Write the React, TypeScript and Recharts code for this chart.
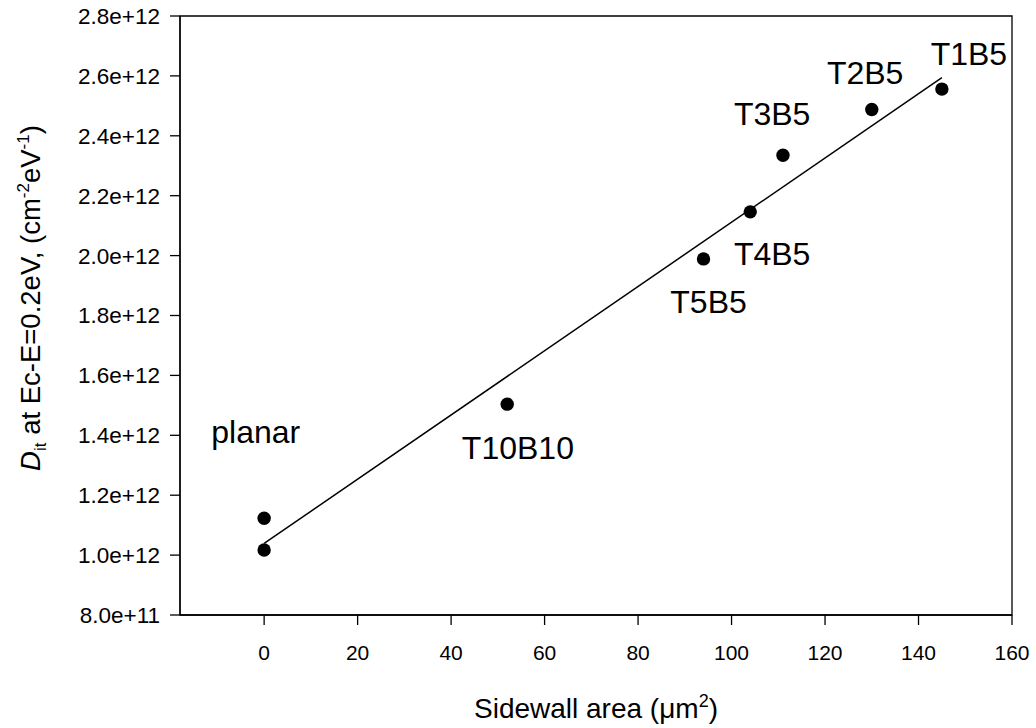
import React from 'react';
import {
  ScatterChart,
  Scatter,
  XAxis,
  YAxis,
  ReferenceLine,
  ReferenceArea,
} from 'recharts';

// measured points (sidewall area in um^2, Dit in cm^-2 eV^-1)
const sidewallArea = [0, 0, 52, 94, 104, 111, 130, 145];
const ditValues = [1.123e12, 1.017e12, 1.504e12, 1.989e12, 2.146e12, 2.335e12, 2.488e12, 2.556e12];

// sample names, anchored in data units (left edge / baseline of the text)
const labelNames = ['planar', 'T10B10', 'T5B5', 'T4B5', 'T3B5', 'T2B5', 'T1B5'];
const labelX = [-11.3, 42.3, 86.9, 100.5, 100.5, 120.4, 142.6];
const labelY = [1.374e12, 1.32e12, 1.807e12, 1.969e12, 2.436e12, 2.572e12, 2.636e12];

// linear fit endpoints
const fitX = [0, 145];
const fitY = [1.039e12, 2.594e12];

const xTicks = [0, 20, 40, 60, 80, 100, 120, 140, 160];
const yTicks = [8e11, 1.0e12, 1.2e12, 1.4e12, 1.6e12, 1.8e12, 2.0e12, 2.2e12, 2.4e12, 2.6e12, 2.8e12];
const xDomain = [-18, 160];
const yDomain = [8e11, 2.8e12];

const FONT = '"Liberation Sans", Arial, sans-serif';

const points = sidewallArea.map((x, i) => ({ x, y: ditValues[i] }));
const labels = labelNames.map((name, i) => ({ x: labelX[i], y: labelY[i], name }));

function Dot(props: any) {
  return <circle cx={props.cx} cy={props.cy} r={6.7} fill="#000" />;
}

function NameText(props: any) {
  return (
    <text x={props.cx} y={props.cy} fontSize={32} fontFamily={FONT} fill="#000" textAnchor="start">
      {props.payload.name}
    </text>
  );
}

function XTick(props: any) {
  return (
    <text
      x={props.x}
      y={props.y}
      dy="0.71em"
      textAnchor="middle"
      style={{ fontSize: 21, fontFamily: FONT, fill: '#000' }}
    >
      {props.payload.value}
    </text>
  );
}

function YTick(props: any) {
  return (
    <text
      x={props.x}
      y={props.y}
      dy="0.355em"
      textAnchor="end"
      style={{ fontSize: 22.5, fontFamily: FONT, fill: '#000' }}
    >
      {Number(props.payload.value).toExponential(1)}
    </text>
  );
}

function XTitle(props: any) {
  const vb = props.viewBox;
  const cx = vb.x + vb.width / 2;
  return (
    <text x={cx} y={vb.y + 103} textAnchor="middle" fontSize={28} fontFamily={FONT} fill="#000">
      <tspan>Sidewall area (</tspan>
      <tspan>μm</tspan>
      <tspan fontSize={18} dy={-11}>2</tspan>
      <tspan dy={11}>)</tspan>
    </text>
  );
}

function YTitle() {
  const x = 40;
  const y = 298;
  return (
    <text
      x={x}
      y={y}
      transform={`rotate(-90, ${x}, ${y})`}
      textAnchor="middle"
      fontSize={27.5}
      fontFamily={FONT}
      fill="#000"
    >
      <tspan fontStyle="italic">D</tspan>
      <tspan fontSize={17} dy={6}>it</tspan>
      <tspan dy={-6}> at Ec-E=0.2eV, (cm</tspan>
      <tspan fontSize={17} dy={-11}>-2</tspan>
      <tspan dy={11}>eV</tspan>
      <tspan fontSize={17} dy={-11}>-1</tspan>
      <tspan dy={11}>)</tspan>
    </text>
  );
}

export default function App() {
  return (
    <div
      style={{
        position: 'absolute',
        left: 0,
        top: 0,
        background: '#fff',
        fontFamily: FONT,
      }}
    >
      <ScatterChart
        width={1036}
        height={728}
        margin={{ top: 16, right: 24, bottom: 0, left: 0 }}
      >
        <XAxis
          type="number"
          dataKey="x"
          domain={xDomain}
          ticks={xTicks}
          allowDataOverflow
          height={113}
          tickSize={10}
          tickMargin={20}
          tick={(p: any) => <XTick {...p} />}
          tickLine={{ stroke: '#000', strokeWidth: 1.3 }}
          axisLine={{ stroke: '#000', strokeWidth: 1.3 }}
          label={(p: any) => <XTitle viewBox={p.viewBox} />}
        />
        <YAxis
          type="number"
          dataKey="y"
          domain={yDomain}
          ticks={yTicks}
          allowDataOverflow
          width={180}
          tickSize={10}
          tickMargin={10}
          tick={(p: any) => <YTick {...p} />}
          tickLine={{ stroke: '#000', strokeWidth: 1.3 }}
          axisLine={{ stroke: '#000', strokeWidth: 1.3 }}
          label={() => <YTitle />}
        />
        <ReferenceArea
          x1={xDomain[0]}
          x2={xDomain[1]}
          y1={yDomain[0]}
          y2={yDomain[1]}
          fill="none"
          fillOpacity={0}
          stroke="#000"
          strokeWidth={1.3}
        />
        <ReferenceLine
          segment={[
            { x: fitX[0], y: fitY[0] },
            { x: fitX[1], y: fitY[1] },
          ]}
          stroke="#000"
          strokeWidth={1.5}
        />
        <Scatter data={points} shape={Dot} isAnimationActive={false} />
        <Scatter data={labels} shape={NameText} isAnimationActive={false} />
      </ScatterChart>
    </div>
  );
}
